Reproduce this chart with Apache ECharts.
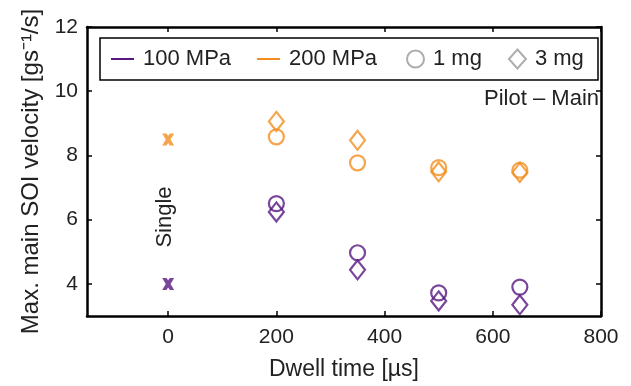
<!DOCTYPE html>
<html>
<head>
<meta charset="utf-8">
<script src="https://cdn.jsdelivr.net/npm/echarts@6/dist/echarts.min.js"></script>
<style>
  html, body { margin: 0; padding: 0; background: #fff; }
  #chart { width: 631px; height: 386px; }
</style>
</head>
<body>
<div id="chart"></div>
<script>
// dwell times (µs) for the pilot-main injections
const dwell = [200, 350, 500, 650];
// max. main SOI velocity [gs^-1/s]
const p100_1mg = [6.5, 4.97, 3.72, 3.9];
const p100_3mg = [6.24, 4.44, 3.47, 3.35];
const p200_1mg = [8.58, 7.77, 7.62, 7.54];
const p200_3mg = [9.06, 8.47, 7.49, 7.47];
// single injection, plotted at dwell 0
const singleDwell = [0];
const single100 = [4.0];
const single200 = [8.5];

const xTicks = [0, 200, 400, 600, 800];
const yTicks = [4, 6, 8, 10, 12];

const purple = '#571880';
const orange = '#f28e1f';
const font = 'Liberation Sans, Arial, sans-serif';
const textColor = '#222';
const crossPath = 'path://M0,0 L3.6,0 L5,2 L6.4,0 L10,0 L7,5 L10,10 L6.4,10 L5,8 L3.6,10 L0,10 L3,5 Z';

const pairs = (xs, ys) => xs.map((x, i) => [x, ys[i]]);

const hollow = (name, color, symbol, size, data) => ({
  name: name,
  type: 'scatter',
  symbol: symbol,
  symbolSize: size,
  itemStyle: { color: 'rgba(0,0,0,0)', borderColor: color, borderWidth: 2.2 },
  data: data,
  z: 3
});

const frame = { show: true, onZero: false, lineStyle: { color: '#000', width: 2.5 } };
const tick = vals => ({ show: true, inside: true, length: 5, lineStyle: { color: '#000', width: 1.5 }, customValues: vals });
const legendText = { fontSize: 22, color: textColor, fontFamily: font, padding: [0, 0, 0, 4] };

const chart = echarts.init(document.getElementById('chart'));

chart.setOption({
  animation: false,
  grid: { left: 87, right: 30, top: 27, bottom: 68 },
  legend: [{
    data: ['100 MPa', '200 MPa'],
    left: 111,
    top: 48,
    icon: 'rect',
    itemWidth: 23,
    itemHeight: 2,
    itemGap: 26,
    padding: 0,
    textStyle: legendText
  }, {
    data: ['1 mg', '3 mg'],
    left: 406,
    top: 48,
    itemWidth: 17,
    itemHeight: 19,
    itemGap: 26,
    padding: 0,
    textStyle: legendText
  }],
  xAxis: [{
    type: 'value',
    min: -150,
    max: 800,
    position: 'bottom',
    name: 'Dwell time [µs]',
    nameLocation: 'middle',
    nameGap: 42,
    nameTextStyle: { fontSize: 23, color: textColor, fontFamily: font },
    axisLine: frame,
    axisTick: tick(xTicks),
    axisLabel: { fontSize: 21, color: textColor, fontFamily: font, margin: 11, customValues: xTicks },
    splitLine: { show: false }
  }, {
    type: 'value',
    min: -150,
    max: 800,
    position: 'top',
    axisLine: frame,
    axisTick: tick(xTicks),
    axisLabel: { show: false },
    splitLine: { show: false }
  }],
  yAxis: [{
    type: 'value',
    min: 3,
    max: 12,
    position: 'left',
    name: 'Max. main SOI velocity [gs⁻¹/s]',
    nameLocation: 'middle',
    nameGap: 42,
    nameTextStyle: { fontSize: 24, color: textColor, fontFamily: font },
    axisLine: frame,
    axisTick: tick(yTicks),
    axisLabel: { fontSize: 21, color: textColor, fontFamily: font, margin: 9, customValues: yTicks },
    splitLine: { show: false }
  }, {
    type: 'value',
    min: 3,
    max: 12,
    position: 'right',
    axisLine: frame,
    axisTick: tick(yTicks),
    axisLabel: { show: false },
    splitLine: { show: false }
  }],
  graphic: [{
    type: 'rect',
    shape: { x: 100, y: 38, width: 498, height: 42 },
    style: { fill: 'none', stroke: '#000', lineWidth: 1.5 }
  }, {
    type: 'text',
    x: 165,
    y: 217,
    rotation: Math.PI / 2,
    style: { text: 'Single', fontSize: 22, fill: textColor, fontFamily: font, align: 'center', verticalAlign: 'middle' }
  }, {
    type: 'text',
    right: 32,
    top: 88,
    style: { text: 'Pilot – Main', fontSize: 22, fill: textColor, fontFamily: font }
  }],
  series: [
    // legend-only entries
    { name: '100 MPa', type: 'line', symbol: 'none', data: [], lineStyle: { color: purple, width: 2 }, itemStyle: { color: purple } },
    { name: '200 MPa', type: 'line', symbol: 'none', data: [], lineStyle: { color: orange, width: 2 }, itemStyle: { color: orange } },
    { name: '1 mg', type: 'scatter', symbol: 'circle', data: [], itemStyle: { color: '#fff', borderColor: '#999', borderWidth: 1.2 } },
    { name: '3 mg', type: 'scatter', symbol: 'diamond', data: [], itemStyle: { color: '#fff', borderColor: '#999', borderWidth: 1.2 } },
    // data
    hollow('100 MPa', purple, 'circle', 15, pairs(dwell, p100_1mg)),
    hollow('100 MPa', purple, 'diamond', [15, 19], pairs(dwell, p100_3mg)),
    hollow('200 MPa', orange, 'circle', 15, pairs(dwell, p200_1mg)),
    hollow('200 MPa', orange, 'diamond', [15, 19], pairs(dwell, p200_3mg)),
    { name: '100 MPa', type: 'scatter', symbol: crossPath, symbolSize: 12, itemStyle: { color: purple }, data: pairs(singleDwell, single100) },
    { name: '200 MPa', type: 'scatter', symbol: crossPath, symbolSize: 12, itemStyle: { color: orange }, data: pairs(singleDwell, single200) }
  ]
});
</script>
</body>
</html>
